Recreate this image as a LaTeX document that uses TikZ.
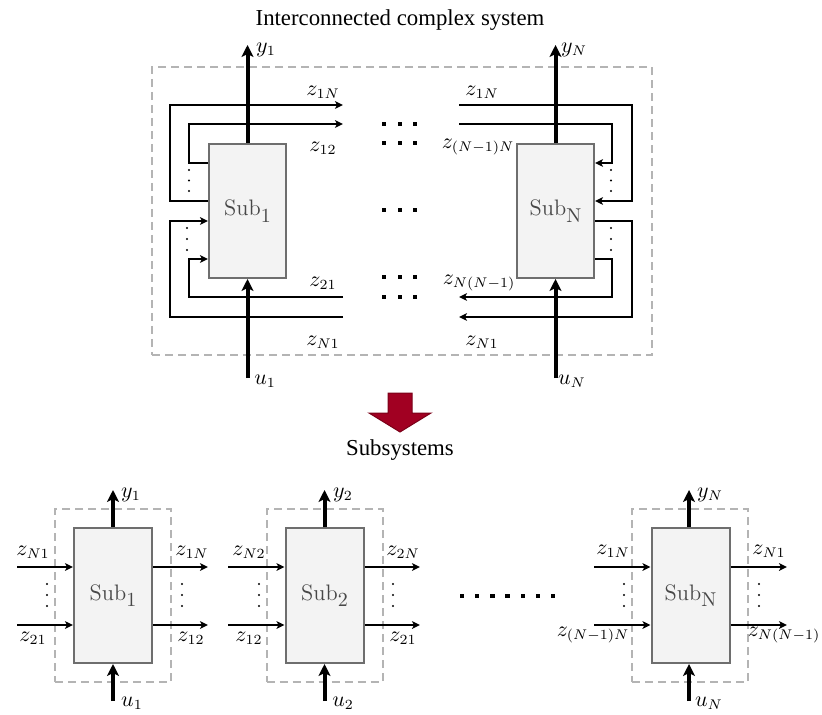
\documentclass[tikz,border=0pt]{standalone}
\usepackage{fontspec}
\newfontfamily\timesfont{Liberation Serif}
\usetikzlibrary{arrows.meta,calc}
\definecolor{boxfill}{HTML}{F3F3F3}
\definecolor{boxdraw}{HTML}{6E6E6E}
\definecolor{framegray}{HTML}{B4B4B4}
\definecolor{arrowred}{HTML}{A10022}
\definecolor{arrowredd}{HTML}{7A0018}
\newcommand{\subsyslabel}[1]{Sub\raisebox{-3.3pt}{\fontsize{10}{12}\selectfont #1}}
\begin{document}
\begin{tikzpicture}[x=0.5pt,y=-0.5pt,
  subbox/.style={draw=boxdraw,fill=boxfill,line width=1pt,minimum width=38.5pt,minimum height=67pt,inner sep=0pt,font=\fontsize{11.2}{13}\selectfont,text=black!72},
  frame/.style={draw=framegray,line width=1pt,dash pattern=on 4pt off 2.5pt,inner sep=0pt},
  sig/.style={line width=1pt,-{Stealth[length=4pt,width=3.8pt,inset=1pt]}},
  io/.style={line width=2pt,-{Stealth[length=6pt,width=6pt,inset=1.5pt]}},
  lbl/.style={font=\fontsize{10.5}{12}\selectfont,inner sep=0pt},
  ttl/.style={font=\timesfont\fontsize{11.4}{13}\selectfont,inner sep=0pt},
]
\useasboundingbox (0,0) rectangle (822,715);

% ---------- titles ----------
\node[ttl] (title) at (400,20) {Interconnected complex system};
\node[ttl] (subs) at (400,450) {Subsystems};

% ---------- top: interconnected system ----------
\node[frame,minimum width=250pt,minimum height=144pt] (bigframe) at (402,211) {};
\node[subbox] (s1) at (247.5,211) {\subsyslabel{1}};
\node[subbox] (sN) at (555.5,211) {\subsyslabel{N}};

% free ends
\coordinate (o1a) at (343,105);
\coordinate (o1b) at (343,124);
\coordinate (i1b) at (343,297);
\coordinate (i1a) at (343,317);
\coordinate (iNa) at (459,105);
\coordinate (iNb) at (459,124);
\coordinate (oNb) at (459,297);
\coordinate (oNa) at (459,317);

% Sub1 loops
\draw[sig] (s1.west |- 0,201) -| (170,105) -- (o1a);
\draw[sig] (s1.west |- 0,163) -| (189,124) -- (o1b);
\draw[sig] (i1b) -| (189,259) -- (s1.west |- 0,259);
\draw[sig] (i1a) -| (170,221) -- (s1.west |- 0,221);
% SubN loops
\draw[sig] (iNa) -| (632,201) -- (sN.east |- 0,201);
\draw[sig] (iNb) -| (612,163) -- (sN.east |- 0,163);
\draw[sig] (sN.east |- 0,221) -| (632,317) -- (oNa);
\draw[sig] (sN.east |- 0,259) -| (612,297) -- (oNb);

% vertical dots
\foreach \yy in {170,180.5,191} {\fill (189,\yy) circle (0.6pt); \fill (611,\yy) circle (0.6pt);}
\foreach \yy in {228,239,250} {\fill (187,\yy) circle (0.6pt); \fill (611,\yy) circle (0.6pt);}

% middle dots
\foreach \xx in {384,399.5,415} \foreach \yy in {124,143.5,210,277.5,297}
  \fill ({\xx-2},{\yy-2}) rectangle ({\xx+2},{\yy+2});

% y, u
\coordinate (y1t) at (247.5,45);
\coordinate (u1b) at (247.5,378);
\coordinate (yNt) at (555.5,45);
\coordinate (uNb) at (555.5,378);
\draw[io] (s1.north) -- (y1t);
\draw[io] (u1b) -- (s1.south);
\draw[io] (sN.north) -- (yNt);
\draw[io] (uNb) -- (sN.south);
\node[lbl] (ly1) at (266,50) {$y_1$};
\node[lbl] (lu1) at (265,381) {$u_1$};
\node[lbl] (lyN) at (574,50) {$y_N$};
\node[lbl] (luN) at (572,381) {$u_N$};

% z labels top
\node[lbl] (t1) at (323,92) {$z_{1N}$};
\node[lbl] (t2) at (323,148) {$z_{12}$};
\node[lbl] (t3) at (323,283) {$z_{21}$};
\node[lbl] (t4) at (323,342) {$z_{N1}$};
\node[lbl] (t5) at (482,92) {$z_{1N}$};
\node[lbl] (t6) at (478,147) {$z_{(N-1)N}$};
\node[lbl] (t7) at (479,283) {$z_{N(N-1)}$};
\node[lbl] (t8) at (482,342) {$z_{N1}$};

% red arrow
\filldraw[fill=arrowred,draw=arrowredd,line width=0.5pt]
  (388,393) -- (412,393) -- (412,413) -- (431,413) -- (400,432) -- (369,413) -- (388,413) -- cycle;

% ---------- bottom: subsystems ----------
\foreach \nm/\cx in {1/113,2/324.5,N/690} {
  \node[frame,minimum width=58pt,minimum height=86.5pt] (f\nm) at (\cx,595.5) {};
}
\node[subbox,minimum width=39pt,minimum height=67.5pt] (b1) at (113,595.5) {\subsyslabel{1}};
\node[subbox,minimum width=39pt,minimum height=67.5pt] (b2) at (324.5,595.5) {\subsyslabel{2}};
\node[subbox,minimum width=39pt,minimum height=67.5pt] (bN) at (690.5,595.5) {\subsyslabel{N}};

% free ends bottom
\coordinate (b1ia) at (17,567);  \coordinate (b1ib) at (17,625);
\coordinate (b1oa) at (208,567); \coordinate (b1ob) at (208,625);
\coordinate (b2ia) at (228,567); \coordinate (b2ib) at (228,625);
\coordinate (b2oa) at (420,567); \coordinate (b2ob) at (420,625);
\coordinate (bNia) at (594,567); \coordinate (bNib) at (594,625);
\coordinate (bNoa) at (787,567); \coordinate (bNob) at (787,625);

\foreach \b in {1,2,N} {
  \draw[sig] (b\b ia) -- (b\b.west |- b\b ia);
  \draw[sig] (b\b ib) -- (b\b.west |- b\b ib);
  \draw[sig] (b\b.east |- b\b oa) -- (b\b oa);
  \draw[sig] (b\b.east |- b\b ob) -- (b\b ob);
}

% y,u bottom
\coordinate (by1) at (113,490);   \coordinate (bu1) at (113,701);
\coordinate (by2) at (324.5,490); \coordinate (bu2) at (324.5,701);
\coordinate (byN) at (689,490);   \coordinate (buN) at (689,701);
\draw[io] (b1.north -| by1) -- (by1);
\draw[io] (bu1) -- (b1.south -| bu1);
\draw[io] (b2.north -| by2) -- (by2);
\draw[io] (bu2) -- (b2.south -| bu2);
\draw[io] (bN.north -| byN) -- (byN);
\draw[io] (buN) -- (bN.south -| buN);
\node[lbl] (lby1) at (131,495) {$y_1$};
\node[lbl] (lbu1) at (132,703) {$u_1$};
\node[lbl] (lby2) at (343,495) {$y_2$};
\node[lbl] (lbu2) at (343,703) {$u_2$};
\node[lbl] (lbyN) at (710,495) {$y_N$};
\node[lbl] (lbuN) at (709,703) {$u_N$};

% z labels bottom
\node[lbl] (c1) at (33,552) {$z_{N1}$};
\node[lbl] (c2) at (33,638) {$z_{21}$};
\node[lbl] (c3) at (192,552) {$z_{1N}$};
\node[lbl] (c4) at (191,638) {$z_{12}$};
\node[lbl] (c5) at (249,552) {$z_{N2}$};
\node[lbl] (c6) at (249,638) {$z_{12}$};
\node[lbl] (c7) at (403,552) {$z_{2N}$};
\node[lbl] (c8) at (403,638) {$z_{21}$};
\node[lbl] (c9) at (613,551) {$z_{1N}$};
\node[lbl] (c10) at (593,635) {$z_{(N-1)N}$};
\node[lbl] (c11) at (769,551) {$z_{N1}$};
\node[lbl] (c12) at (784,635) {$z_{N(N-1)}$};

% vertical dots bottom
\foreach \xx in {47,182,259,393,624,759}
  \foreach \yy in {584,595,606} \fill (\xx,\yy) circle (0.6pt);

% horizontal dots bottom
\foreach \i in {0,...,6}
  \fill ({462+15.2*\i-2.2},{596-2.2}) rectangle ({462+15.2*\i+2.2},{596+2.2});
\end{tikzpicture}
\end{document}
